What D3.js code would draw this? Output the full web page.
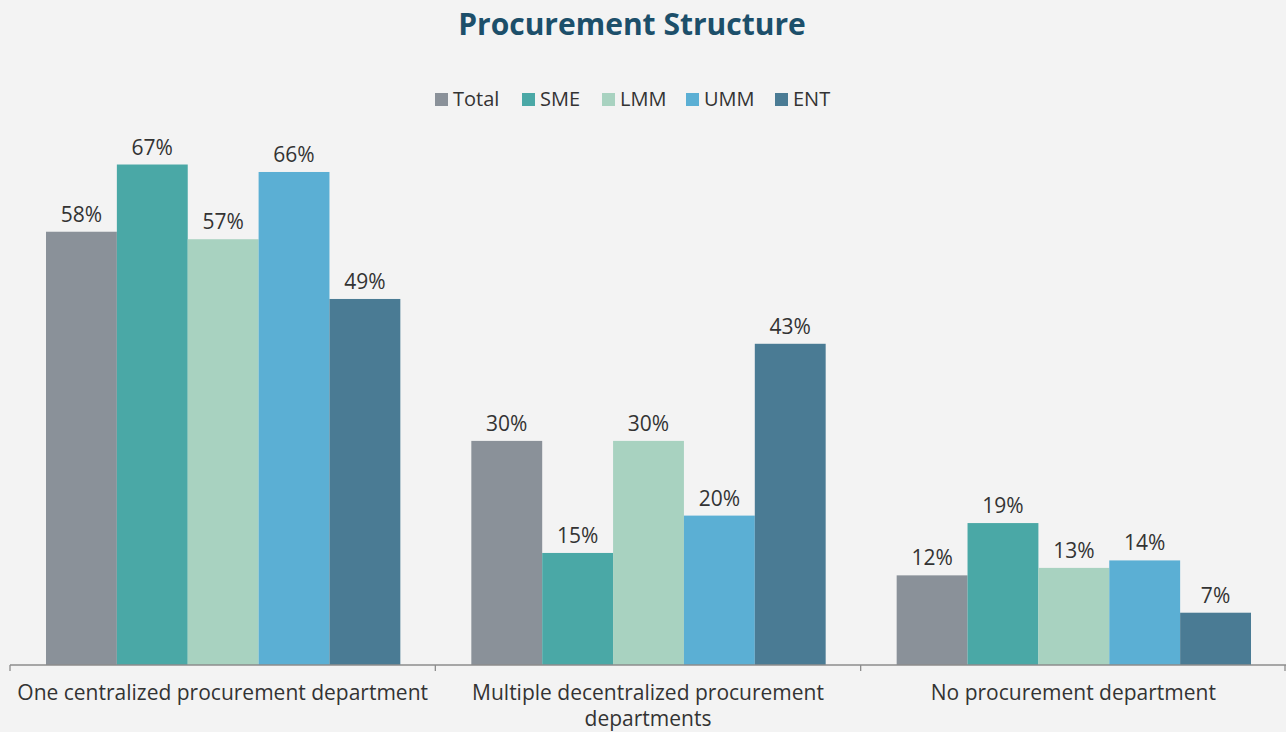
<!DOCTYPE html>
<html>
<head>
<meta charset="utf-8">
<script src="https://cdn.jsdelivr.net/npm/d3@7/dist/d3.min.js"></script>
<style>
  html, body { margin: 0; padding: 0; background: #f3f3f3; }
  svg { display: block; font-family: "Open Sans", Lato, sans-serif; }
</style>
</head>
<body>
<svg id="chart" width="1286" height="732"></svg>
<script>
const categories = [
  "One centralized procurement department",
  "Multiple decentralized procurement departments",
  "No procurement department"
];
const seriesNames = ["Total", "SME", "LMM", "UMM", "ENT"];
const seriesColors = ["#8a9199", "#4aa8a6", "#a8d2c0", "#5bafd4", "#4a7b94"];
const totalValues = [58, 30, 12];
const smeValues   = [67, 15, 19];
const lmmValues   = [57, 30, 13];
const ummValues   = [66, 20, 14];
const entValues   = [49, 43, 7];
const seriesValues = [totalValues, smeValues, lmmValues, ummValues, entValues];

const svg = d3.select("#chart");
const W = 1286, H = 732;
const margin = { left: 10, right: 0, top: 142, bottom: 67 };
const baseY = H - margin.bottom;
const textColor = "#333333";

svg.append("rect").attr("width", W).attr("height", H).attr("fill", "#f3f3f3");

// Title
svg.append("text")
  .attr("x", 632).attr("y", 35)
  .attr("text-anchor", "middle")
  .attr("font-size", 30).attr("font-weight", 700)
  .attr("fill", "#1c4f6a")
  .text("Procurement Structure");

// Scales
const x0 = d3.scaleBand().domain(categories).range([margin.left, W - margin.right]).padding(0);
const x1 = d3.scaleBand().domain(seriesNames).range([36, x0.bandwidth() - 35]).padding(0);
const y = d3.scaleLinear().domain([0, 70]).range([baseY, baseY - 70 * 7.47]);

// Bars with value labels
const groups = svg.append("g").selectAll("g")
  .data(categories).join("g")
  .attr("transform", d => `translate(${x0(d)},0)`);

groups.each(function(cat, ci) {
  const g = d3.select(this);
  seriesNames.forEach((s, si) => {
    const v = seriesValues[si][ci];
    g.append("rect")
      .attr("x", x1(s)).attr("width", x1.bandwidth())
      .attr("y", y(v)).attr("height", baseY - y(v))
      .attr("fill", seriesColors[si]);
    g.append("text")
      .attr("x", x1(s) + x1.bandwidth() / 2)
      .attr("y", y(v) - 10)
      .attr("text-anchor", "middle")
      .attr("font-size", 21).attr("fill", textColor)
      .text(v + "%");
  });
});

// Category axis
const axis = svg.append("g");
axis.append("line")
  .attr("x1", margin.left).attr("x2", W)
  .attr("y1", baseY).attr("y2", baseY)
  .attr("stroke", "#8c8c8c").attr("stroke-width", 1.3);
const tickXs = categories.map(c => x0(c)).concat([x0(categories[2]) + x0.bandwidth()]);
axis.selectAll("line.tick").data(tickXs).join("line")
  .attr("class", "tick")
  .attr("x1", d => Math.min(d, W - 1)).attr("x2", d => Math.min(d, W - 1))
  .attr("y1", baseY).attr("y2", baseY + 6)
  .attr("stroke", "#8c8c8c").attr("stroke-width", 1.3);

// Category labels (wrapped)
const labelLines = [
  ["One centralized procurement department"],
  ["Multiple decentralized procurement", "departments"],
  ["No procurement department"]
];
categories.forEach((c, i) => {
  const cx = x0(c) + x0.bandwidth() / 2;
  const t = svg.append("text")
    .attr("x", cx).attr("y", 700)
    .attr("text-anchor", "middle")
    .attr("font-size", 21).attr("fill", textColor);
  labelLines[i].forEach((ln, li) => {
    t.append("tspan").attr("x", cx).attr("dy", li ? 26 : 0).text(ln);
  });
});

// Legend
const legendX = [435, 522, 602, 686, 775];
const legend = svg.append("g");
seriesNames.forEach((s, i) => {
  legend.append("rect")
    .attr("x", legendX[i]).attr("y", 93).attr("width", 13).attr("height", 13)
    .attr("fill", seriesColors[i]);
  legend.append("text")
    .attr("x", legendX[i] + 18).attr("y", 106)
    .attr("font-size", 20).attr("fill", textColor)
    .text(s);
});
</script>
</body>
</html>
